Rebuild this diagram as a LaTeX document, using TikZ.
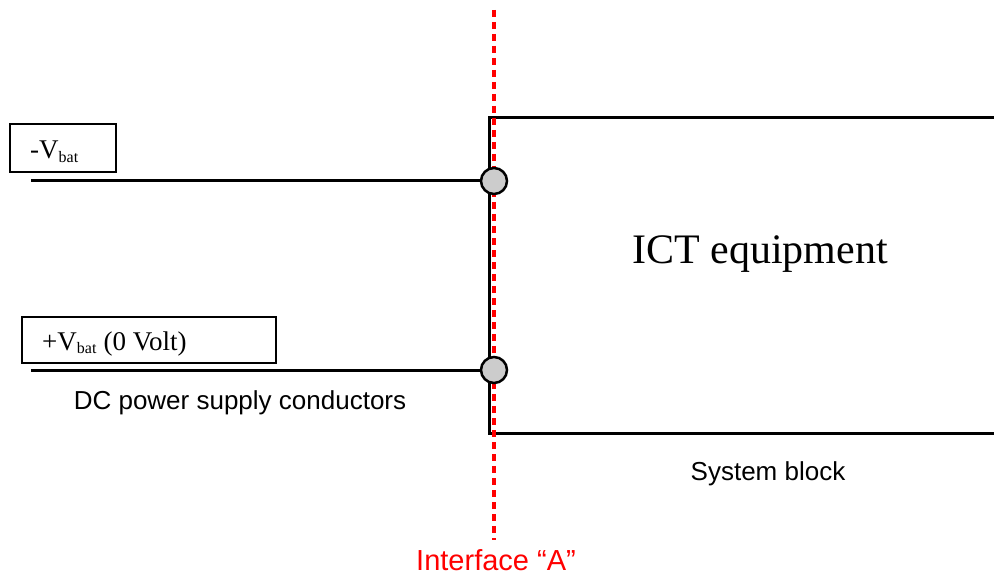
\documentclass[tikz,border=0pt]{standalone}
\usepackage{fontspec}
\setmainfont{Liberation Serif}
\setsansfont{Liberation Sans}
\begin{document}
\begin{tikzpicture}[x=1pt,y=-1pt,
  wire/.style={line width=3pt,black},
  lblbox/.style={draw,line width=1.2pt,rectangle,inner sep=0pt},
  term/.style={circle,draw,line width=2.5pt,fill=gray!40,minimum size=26pt,inner sep=0pt},
  iface/.style={red,line width=4pt,dash pattern=on 7pt off 5pt},
  sanslbl/.style={font=\sffamily\fontsize{26}{30}\selectfont},
  seriflbl/.style={font=\fontsize{27}{30}\selectfont,inner sep=0pt}
]
\useasboundingbox (0,0) rectangle (994,575);
% system block
\coordinate (bt) at (994,118);
\coordinate (tl) at (489,118);
\coordinate (bl) at (489,433);
\coordinate (bb) at (994,433);
\draw[line width=3pt] (bt) -- (tl) -- (bl) -- (bb);
% interface line
\coordinate (itop) at (494,10);
\coordinate (ibot) at (494,540);
\draw[iface] (itop) -- (ibot);
% terminals
\node[term] (t1) at (494,181) {};
\node[term] (t2) at (494,370) {};
\coordinate (w1) at (31,181);
\coordinate (w2) at (31,370);
\draw[wire] (w1) -- (t1.west);
\draw[wire] (w2) -- (t2.west);
% label boxes
\node[lblbox,minimum width=106pt,minimum height=48pt] (b1) at (63,148) {};
\node[seriflbl,anchor=base west] (l1) at (30,159) {-V\textsubscript{\fontsize{16}{18}\selectfont bat}};
\node[lblbox,minimum width=254pt,minimum height=46pt] (b2) at (149,340) {};
\node[seriflbl,anchor=base west] (l2) at (42,350) {+V\textsubscript{\fontsize{16}{18}\selectfont bat} (0 Volt)};
% texts
\node[font=\fontsize{42}{46}\selectfont] (ict) at (760,254) {ICT equipment};
\node[sanslbl] (dc) at (240,403) {DC power supply conductors};
\node[sanslbl] (sb) at (768,474) {System block};
\node[sanslbl,text=red,font=\sffamily\fontsize{29}{32}\selectfont] (ia) at (496,560) {Interface “A”};
\end{tikzpicture}
\end{document}
